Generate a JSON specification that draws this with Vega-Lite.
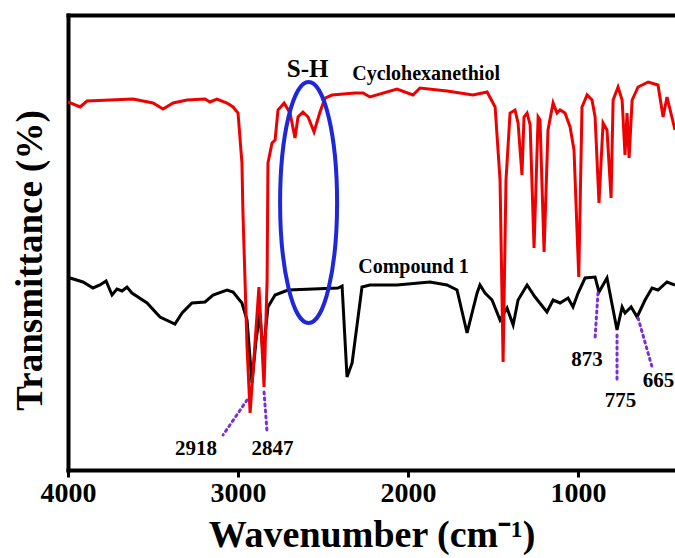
{
  "$schema": "https://vega.github.io/schema/vega-lite/v6.json",
  "width": 607,
  "height": 455,
  "autosize": {"type": "none"},
  "padding": {"left": 68, "top": 15, "right": 0, "bottom": 88},
  "background": "white",
  "config": {"view": {"stroke": null}, "font": "Liberation Serif"},
  "datasets": {
    "red": [
      {"wn": 4000, "T": 73.6}, {"wn": 3929, "T": 72.6}, {"wn": 3888, "T": 73.8}, {"wn": 3753, "T": 74}, {"wn": 3618, "T": 74.2},
      {"wn": 3500, "T": 73.4}, {"wn": 3441, "T": 72.2}, {"wn": 3382, "T": 73.4}, {"wn": 3300, "T": 74}, {"wn": 3194, "T": 74.2},
      {"wn": 3165, "T": 73.6}, {"wn": 3124, "T": 74.2}, {"wn": 3065, "T": 73.4}, {"wn": 3029, "T": 72.6}, {"wn": 3000, "T": 71.4},
      {"wn": 2977, "T": 61.4}, {"wn": 2971, "T": 51.4}, {"wn": 2947, "T": 24.6}, {"wn": 2929, "T": 11.4}, {"wn": 2877, "T": 36.6},
      {"wn": 2847, "T": 16.6}, {"wn": 2829, "T": 38}, {"wn": 2824, "T": 61.4}, {"wn": 2800, "T": 65.4}, {"wn": 2782, "T": 66},
      {"wn": 2765, "T": 72}, {"wn": 2729, "T": 73.4}, {"wn": 2694, "T": 71.4}, {"wn": 2665, "T": 66.4}, {"wn": 2647, "T": 70.6},
      {"wn": 2618, "T": 71.6}, {"wn": 2588, "T": 70.6}, {"wn": 2553, "T": 67.6}, {"wn": 2518, "T": 71.6}, {"wn": 2488, "T": 74.4},
      {"wn": 2447, "T": 75}, {"wn": 2312, "T": 75.4}, {"wn": 2265, "T": 75.4}, {"wn": 2224, "T": 74.6}, {"wn": 2065, "T": 76.2},
      {"wn": 1971, "T": 75}, {"wn": 1930, "T": 76.4}, {"wn": 1771, "T": 75.8}, {"wn": 1618, "T": 75}, {"wn": 1535, "T": 75.6},
      {"wn": 1488, "T": 72.6}, {"wn": 1459, "T": 58}, {"wn": 1441, "T": 21.6}, {"wn": 1424, "T": 58}, {"wn": 1400, "T": 71.4},
      {"wn": 1371, "T": 72}, {"wn": 1353, "T": 69.4}, {"wn": 1330, "T": 59}, {"wn": 1318, "T": 70.6}, {"wn": 1300, "T": 71.4},
      {"wn": 1282, "T": 69}, {"wn": 1259, "T": 44.4}, {"wn": 1235, "T": 70.6}, {"wn": 1224, "T": 70}, {"wn": 1200, "T": 43.6},
      {"wn": 1177, "T": 68}, {"wn": 1147, "T": 73.4}, {"wn": 1124, "T": 71.4}, {"wn": 1106, "T": 72}, {"wn": 1077, "T": 71.4},
      {"wn": 1047, "T": 68.6}, {"wn": 1024, "T": 64}, {"wn": 996, "T": 38.6}, {"wn": 977, "T": 72.6}, {"wn": 947, "T": 75},
      {"wn": 918, "T": 74}, {"wn": 900, "T": 70.6}, {"wn": 877, "T": 53.4}, {"wn": 853, "T": 69.4}, {"wn": 830, "T": 68},
      {"wn": 806, "T": 54.4}, {"wn": 794, "T": 74}, {"wn": 765, "T": 76.6}, {"wn": 741, "T": 74}, {"wn": 724, "T": 63},
      {"wn": 712, "T": 71.4}, {"wn": 700, "T": 62.4}, {"wn": 682, "T": 74}, {"wn": 647, "T": 76.6}, {"wn": 588, "T": 77.6},
      {"wn": 530, "T": 77}, {"wn": 500, "T": 70.6}, {"wn": 477, "T": 74.6}, {"wn": 430, "T": 68}
    ],
    "black": [
      {"wn": 4000, "T": 38.6},
      {"wn": 3988, "T": 38.4}, {"wn": 3912, "T": 37.6}, {"wn": 3853, "T": 36.4}, {"wn": 3812, "T": 37}, {"wn": 3776, "T": 37.8},
      {"wn": 3741, "T": 35}, {"wn": 3712, "T": 36.2}, {"wn": 3682, "T": 35.8}, {"wn": 3653, "T": 36.6}, {"wn": 3624, "T": 35.4},
      {"wn": 3535, "T": 33.4}, {"wn": 3459, "T": 30.6}, {"wn": 3371, "T": 29.2}, {"wn": 3329, "T": 31.4}, {"wn": 3271, "T": 33.4},
      {"wn": 3194, "T": 33.6}, {"wn": 3147, "T": 35}, {"wn": 3065, "T": 36}, {"wn": 3029, "T": 35.6}, {"wn": 2977, "T": 33.4},
      {"wn": 2947, "T": 30}, {"wn": 2918, "T": 17.4}, {"wn": 2894, "T": 26}, {"wn": 2871, "T": 31.4}, {"wn": 2853, "T": 23},
      {"wn": 2824, "T": 32.6}, {"wn": 2782, "T": 35}, {"wn": 2706, "T": 36}, {"wn": 2412, "T": 36.4}, {"wn": 2388, "T": 36.8},
      {"wn": 2359, "T": 18.6}, {"wn": 2329, "T": 21.4}, {"wn": 2271, "T": 36.6}, {"wn": 2224, "T": 37}, {"wn": 2065, "T": 37},
      {"wn": 1871, "T": 37.6}, {"wn": 1771, "T": 37}, {"wn": 1712, "T": 36}, {"wn": 1653, "T": 27.4}, {"wn": 1594, "T": 35.4},
      {"wn": 1577, "T": 37}, {"wn": 1547, "T": 35.4}, {"wn": 1506, "T": 34}, {"wn": 1459, "T": 30}, {"wn": 1418, "T": 32.4},
      {"wn": 1382, "T": 29}, {"wn": 1353, "T": 34}, {"wn": 1300, "T": 37}, {"wn": 1253, "T": 34.6}, {"wn": 1183, "T": 31.6},
      {"wn": 1147, "T": 34}, {"wn": 1106, "T": 33.4}, {"wn": 1059, "T": 34.4}, {"wn": 1030, "T": 32.6}, {"wn": 1000, "T": 35.4},
      {"wn": 959, "T": 38.4}, {"wn": 900, "T": 38.6}, {"wn": 877, "T": 35.6}, {"wn": 830, "T": 38.4}, {"wn": 771, "T": 28},
      {"wn": 741, "T": 32.6}, {"wn": 724, "T": 31.4}, {"wn": 688, "T": 32.6}, {"wn": 653, "T": 30.6}, {"wn": 606, "T": 34},
      {"wn": 565, "T": 36.4}, {"wn": 530, "T": 36}, {"wn": 477, "T": 37.6}, {"wn": 430, "T": 37}
    ],
    "ellipse": [{"wn": 2585, "T": 53.5}],
    "leaders": [
      {"wn": 2947, "T": 14, "wn2": 3088, "T2": 7},
      {"wn": 2847, "T": 15.6, "wn2": 2829, "T2": 7.4},
      {"wn": 883, "T": 35.4, "wn2": 900, "T2": 26.4},
      {"wn": 771, "T": 27, "wn2": 771, "T2": 17.6},
      {"wn": 647, "T": 30.4, "wn2": 565, "T2": 20.6}
    ],
    "sh": [{"wn": 2591, "T": 78.6, "label": "S-H"}],
    "names": [
      {"wn": 1894, "T": 78, "label": "Cyclohexanethiol"},
      {"wn": 1968, "T": 39.4, "label": "Compound 1"}
    ],
    "peaks": [
      {"wn": 3247, "T": 3, "label": "2918"},
      {"wn": 2797, "T": 3, "label": "2847"},
      {"wn": 947, "T": 20.8, "label": "873"},
      {"wn": 750, "T": 12.6, "label": "775"},
      {"wn": 527, "T": 16.6, "label": "665"}
    ]
  },
  "layer": [
    {
      "data": {"name": "black"},
      "mark": {"type": "line", "color": "#000000", "strokeWidth": 3, "clip": true},
      "encoding": {
        "x": {"field": "wn", "type": "quantitative", "scale": {"domain": [4000, 430], "nice": false, "zero": false},
              "axis": {"orient": "top", "labels": false, "ticks": false, "grid": false, "title": null, "domainColor": "black", "domainWidth": 4, "domainCap": "square"}},
        "y": {"field": "T", "type": "quantitative", "scale": {"domain": [0, 91], "nice": false, "zero": false},
              "axis": {"title": "Transmittance (%)", "labels": false, "ticks": false, "grid": false, "domainColor": "black", "domainWidth": 4, "domainCap": "square",
                       "titleFont": "Liberation Serif", "titleFontWeight": "bold", "titleFontSize": 37, "titleColor": "black", "titleX": -38, "titleY": 245, "titleBaseline": "middle", "titleAngle": -90}}
      }
    },
    {
      "data": {"name": "red"},
      "mark": {"type": "line", "color": "#ef0000", "strokeWidth": 3, "clip": true},
      "encoding": {
        "x": {"field": "wn", "type": "quantitative", "scale": {"domain": [4000, 430], "nice": false, "zero": false},
              "axis": {"orient": "bottom", "values": [4000, 3000, 2000, 1000], "format": "d", "grid": false, "domainColor": "black", "domainWidth": 4, "domainCap": "square",
                       "tickColor": "black", "tickWidth": 3, "tickSize": 7, "labelFont": "Liberation Serif", "labelFontWeight": "bold", "labelFontSize": 28, "labelColor": "black",
                       "labelPadding": 2, "labelFlush": false, "labelOverlap": false, "title": "Wavenumber (cm⁻¹)", "titleFont": "Liberation Serif", "titleFontWeight": "bold",
                       "titleFontSize": 38, "titleColor": "black", "titleY": 76, "titleBaseline": "alphabetic"}},
        "y": {"field": "T", "type": "quantitative", "scale": {"domain": [0, 91], "nice": false, "zero": false},
              "axis": {"title": "Transmittance (%)", "labels": false, "ticks": false, "grid": false, "domainColor": "black", "domainWidth": 4, "domainCap": "square",
                       "titleFont": "Liberation Serif", "titleFontWeight": "bold", "titleFontSize": 37, "titleColor": "black", "titleX": -38, "titleY": 245, "titleBaseline": "middle", "titleAngle": -90}}
      }
    },
    {
      "data": {"name": "ellipse"},
      "mark": {"type": "point", "shape": "M0,-1C0.1306,-1,0.2365,-0.5523,0.2365,0C0.2365,0.5523,0.1306,1,0,1C-0.1306,1,-0.2365,0.5523,-0.2365,0C-0.2365,-0.5523,-0.1306,-1,0,-1Z",
               "size": 58081, "filled": false, "color": "#1f28d8", "strokeWidth": 4, "opacity": 1},
      "encoding": {
        "x": {"field": "wn", "type": "quantitative", "axis": null},
        "y": {"field": "T", "type": "quantitative"}
      }
    },
    {
      "data": {"name": "leaders"},
      "mark": {"type": "rule", "color": "#7b2fd8", "strokeWidth": 3, "strokeDash": [2, 4], "strokeCap": "round"},
      "encoding": {
        "x": {"field": "wn", "type": "quantitative", "axis": null},
        "x2": {"field": "wn2"},
        "y": {"field": "T", "type": "quantitative"},
        "y2": {"field": "T2"}
      }
    },
    {
      "data": {"name": "sh"},
      "mark": {"type": "text", "font": "Liberation Serif", "fontWeight": "bold", "fontSize": 25, "color": "black", "align": "center", "baseline": "alphabetic"},
      "encoding": {
        "x": {"field": "wn", "type": "quantitative", "axis": null},
        "y": {"field": "T", "type": "quantitative"},
        "text": {"field": "label"}
      }
    },
    {
      "data": {"name": "names"},
      "mark": {"type": "text", "font": "Liberation Serif", "fontWeight": "bold", "fontSize": 20, "color": "black", "align": "center", "baseline": "alphabetic"},
      "encoding": {
        "x": {"field": "wn", "type": "quantitative", "axis": null},
        "y": {"field": "T", "type": "quantitative"},
        "text": {"field": "label"}
      }
    },
    {
      "data": {"name": "peaks"},
      "mark": {"type": "text", "font": "Liberation Serif", "fontWeight": "bold", "fontSize": 21, "color": "black", "align": "center", "baseline": "alphabetic"},
      "encoding": {
        "x": {"field": "wn", "type": "quantitative", "axis": null},
        "y": {"field": "T", "type": "quantitative"},
        "text": {"field": "label"}
      }
    }
  ],
  "resolve": {"axis": {"x": "independent"}}
}
